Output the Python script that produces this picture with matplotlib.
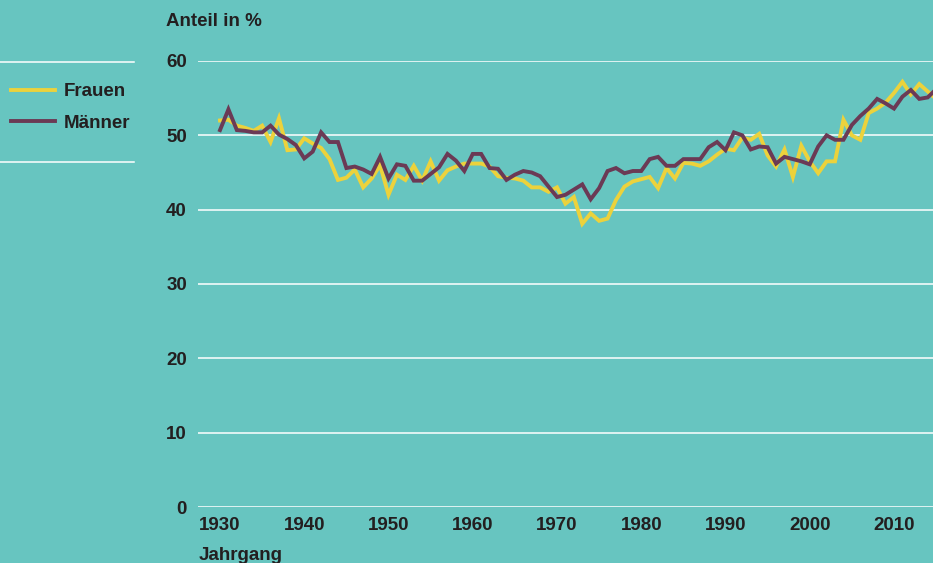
import matplotlib
matplotlib.use("Agg")
import matplotlib.pyplot as plt
from matplotlib.lines import Line2D

# Jahrgänge 1930-2015
jahrgang = list(range(1930, 2016))

frauen = [52.0, 52.1, 51.3, 51.0, 50.6, 51.3, 49.1, 52.3, 48.0, 48.1,
          49.6, 48.9, 48.3, 46.8, 44.0, 44.3, 45.4, 43.0, 44.2, 46.0,
          42.0, 44.7, 44.0, 45.9, 43.9, 46.5, 43.9, 45.3, 45.8, 46.2,
          46.2, 46.2, 45.8, 44.5, 44.3, 44.2, 43.9, 43.0, 43.0, 42.4,
          43.0, 40.8, 41.7, 38.1, 39.5, 38.5, 38.8, 41.3, 43.1, 43.8,
          44.1, 44.4, 42.9, 45.6, 44.2, 46.3, 46.2, 45.9, 46.5, 47.4,
          48.2, 48.0, 49.7, 49.4, 50.2, 47.3, 45.8, 48.1, 44.4, 48.6,
          46.5, 44.9, 46.5, 46.5, 52.1, 50.0, 49.4, 53.0, 53.6, 54.4,
          55.7, 57.2, 55.5, 56.9, 55.9, 54.9]

maenner = [50.7, 53.5, 50.7, 50.6, 50.4, 50.4, 51.3, 50.1, 49.5, 48.7,
           46.9, 47.8, 50.4, 49.1, 49.1, 45.6, 45.8, 45.4, 44.8, 47.1,
           44.2, 46.1, 45.9, 43.9, 43.9, 44.8, 45.7, 47.5, 46.6, 45.2,
           47.5, 47.5, 45.6, 45.5, 44.0, 44.7, 45.2, 45.0, 44.5, 43.1,
           41.7, 42.0, 42.7, 43.4, 41.4, 42.9, 45.2, 45.6, 44.9, 45.2,
           45.2, 46.8, 47.1, 45.9, 45.9, 46.8, 46.8, 46.8, 48.4, 49.1,
           48.0, 50.4, 50.0, 48.1, 48.5, 48.4, 46.2, 47.1, 46.8, 46.5,
           46.1, 48.5, 50.0, 49.4, 49.4, 51.4, 52.6, 53.6, 54.9, 54.3,
           53.6, 55.2, 56.1, 54.9, 55.1, 56.2]

x_ticks = [1930, 1940, 1950, 1960, 1970, 1980, 1990, 2000, 2010]
y_ticks = [0, 10, 20, 30, 40, 50, 60]

bg = "#67c5c0"
gelb = "#ecd23c"
lila = "#6b3a55"
textfarbe = "#231f20"
fs = 13.5

plt.rcParams["font.family"] = ["Liberation Sans", "DejaVu Sans"]
plt.rcParams["font.weight"] = "bold"

W, H = 933, 563
fig = plt.figure(figsize=(W / 100, H / 100), dpi=100, facecolor=bg)
ax = fig.add_axes([198 / W, (H - 507) / H, (W - 198) / W, (507 - 61) / H])
ax.set_facecolor(bg)

ax.plot(jahrgang, frauen, color=gelb, lw=2.8, label="Frauen", solid_joinstyle="miter")
ax.plot(jahrgang, maenner, color=lila, lw=2.8, label="Männer", solid_joinstyle="miter")

ax.set_xlim(1930 - 22 / 8.425, 1930 + (933 - 220) / 8.425)
ax.set_ylim(0, 60)
ax.set_xticks(x_ticks)
ax.set_yticks(y_ticks)
ax.tick_params(length=0, labelsize=fs, labelcolor=textfarbe)
ax.tick_params(axis="y", pad=8)
ax.tick_params(axis="x", pad=7)
for lab in ax.get_xticklabels() + ax.get_yticklabels():
    lab.set_fontweight("bold")

ax.yaxis.grid(True, color="white", lw=1.1)
ax.xaxis.grid(False)
ax.set_axisbelow(True)
for s in ax.spines.values():
    s.set_visible(False)

fig.text(166 / W, 1 - 21 / H, "Anteil in %", fontsize=fs, fontweight="bold",
         color=textfarbe, ha="left", va="center")
fig.text(199 / W, 1 - 560 / H, "Jahrgang", fontsize=fs, fontweight="bold",
         color=textfarbe, ha="left", va="baseline")

# Legende mit weißen Trennlinien
for yy in (62, 162):
    fig.add_artist(Line2D([0, 134 / W], [1 - yy / H, 1 - yy / H],
                          color="white", lw=1.1, transform=fig.transFigure))

leg = ax.legend(loc="upper left", bbox_to_anchor=(0.0, 1 - 72 / H),
                bbox_transform=fig.transFigure, frameon=False,
                prop={"size": fs, "weight": "bold"}, handlelength=2.35,
                handletextpad=0.45, labelspacing=0.75, borderaxespad=0,
                borderpad=0.6)
for t in leg.get_texts():
    t.set_color(textfarbe)

fig.savefig("out.png", dpi=100, facecolor=bg)
